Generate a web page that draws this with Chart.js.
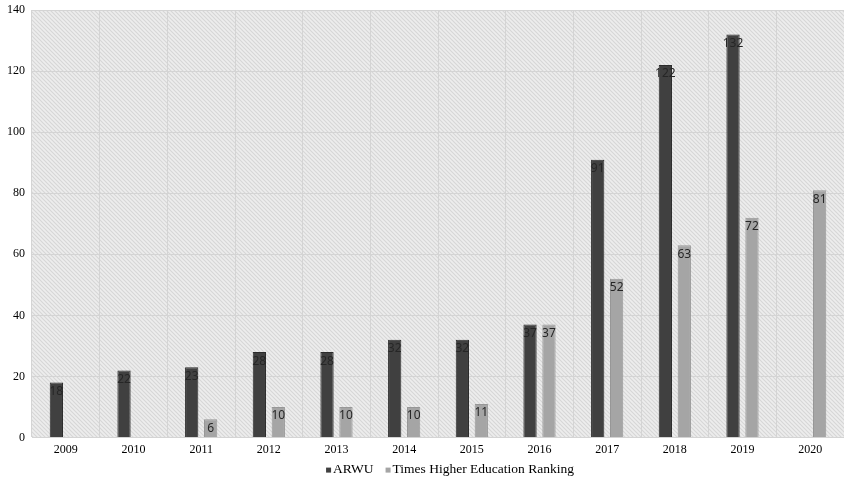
<!DOCTYPE html>
<html>
<head>
<meta charset="utf-8">
<script src="https://cdn.jsdelivr.net/npm/chart.js@4.4.0/dist/chart.umd.min.js"></script>
<style>
  html, body { margin: 0; padding: 0; background: #ffffff; }
  #wrap { width: 844px; height: 480px; position: relative; }
</style>
</head>
<body>
<div id="wrap"><canvas id="c"></canvas></div>
<script>
// Years on the category axis
const years = ['2009','2010','2011','2012','2013','2014','2015','2016','2017','2018','2019','2020'];
// Number of ranked universities per year
const arwu = [18, 22, 23, 28, 28, 32, 32, 37, 91, 122, 132, null];
const the = [null, null, 6, 10, 10, 10, 11, 37, 52, 63, 72, 81];
const seriesNames = ['ARWU', 'Times Higher Education Ranking'];
const seriesColors = ['#404040', '#a5a5a5'];
const seriesBorders = ['#2b2b2b', '#979797'];
const yTicks = [0, 20, 40, 60, 80, 100, 120, 140];

// Diagonal hatch used to fill the plot area
function makeHatch(ctx) {
  const p = document.createElement('canvas');
  p.width = 4; p.height = 4;
  const g = p.getContext('2d');
  g.fillStyle = '#ededed';
  g.fillRect(0, 0, 4, 4);
  g.strokeStyle = '#d6d6d6';
  g.lineWidth = 1.1;
  g.beginPath();
  g.moveTo(-1, -1); g.lineTo(5, 5);
  g.moveTo(-1, 3); g.lineTo(1, 5);
  g.moveTo(3, -1); g.lineTo(5, 1);
  g.stroke();
  return ctx.createPattern(p, 'repeat');
}

const hatchPlugin = {
  id: 'hatchArea',
  beforeDraw(chart) {
    const { ctx, chartArea: a } = chart;
    ctx.save();
    ctx.fillStyle = makeHatch(ctx);
    ctx.fillRect(a.left, a.top, a.right - a.left, a.bottom - a.top);
    ctx.restore();
  }
};

// Value labels placed just inside the top of each bar
const valueLabels = {
  id: 'valueLabels',
  afterDatasetsDraw(chart) {
    const { ctx } = chart;
    ctx.save();
    ctx.font = '12px "Noto Sans"';
    ctx.textAlign = 'center';
    ctx.textBaseline = 'top';
    ctx.fillStyle = '#262626';
    chart.data.datasets.forEach((ds, i) => {
      chart.getDatasetMeta(i).data.forEach((bar, j) => {
        const v = ds.data[j];
        if (v === null || v === undefined) return;
        ctx.fillText(String(v), bar.x, bar.y + 3);
      });
    });
    ctx.restore();
  }
};

// Compact legend row under the axis: small square swatch tight against each name
const compactLegend = {
  id: 'compactLegend',
  afterDraw(chart) {
    const { ctx, chartArea: a } = chart;
    const box = 5, gap = 2, itemGap = 12;
    ctx.save();
    ctx.font = '13.5px "Liberation Serif"';
    ctx.textBaseline = 'middle';
    ctx.textAlign = 'left';
    const widths = seriesNames.map(n => ctx.measureText(n).width);
    let total = 0;
    widths.forEach((w, i) => { total += box + gap + w + (i ? itemGap : 0); });
    let x = (a.left + a.right) / 2 + 12 - total / 2;
    const y = a.bottom + 32;
    seriesNames.forEach((name, i) => {
      ctx.fillStyle = seriesColors[i];
      ctx.fillRect(x, y - 2, box, box);
      x += box + gap;
      ctx.fillStyle = '#000';
      ctx.fillText(name, x, y);
      x += widths[i] + itemGap;
    });
    ctx.restore();
  }
};

new Chart(document.getElementById('c'), {
  type: 'bar',
  data: {
    labels: years,
    datasets: [
      {
        label: seriesNames[0],
        data: arwu,
        backgroundColor: seriesColors[0],
        borderColor: seriesBorders[0],
        borderWidth: 1,
        categoryPercentage: 0.56,
        barPercentage: 0.7
      },
      {
        label: seriesNames[1],
        data: the,
        backgroundColor: seriesColors[1],
        borderColor: seriesBorders[1],
        borderWidth: 1,
        categoryPercentage: 0.56,
        barPercentage: 0.7
      }
    ]
  },
  options: {
    responsive: true,
    maintainAspectRatio: false,
    animation: false,
    layout: { padding: { top: 0, right: 0, left: 0, bottom: 18 } },
    plugins: {
      legend: { display: false },
      tooltip: { enabled: false }
    },
    scales: {
      x: {
        grid: { color: '#d4d4d4', offset: true, drawTicks: false },
        border: { color: '#d4d4d4' },
        ticks: {
          color: '#000',
          padding: 5,
          font: { family: '"Liberation Serif"', size: 12 }
        }
      },
      y: {
        min: 0,
        max: 140,
        afterBuildTicks(scale) { scale.ticks = yTicks.map(v => ({ value: v })); },
        afterFit(scale) {
          scale.width = 32;
          scale.paddingTop = 10;
        },
        grid: { color: '#d4d4d4', drawTicks: false },
        border: { display: false },
        ticks: {
          color: '#000',
          padding: 7,
          font: { family: '"Liberation Serif"', size: 12 }
        }
      }
    }
  },
  plugins: [hatchPlugin, valueLabels, compactLegend]
});
</script>
</body>
</html>
